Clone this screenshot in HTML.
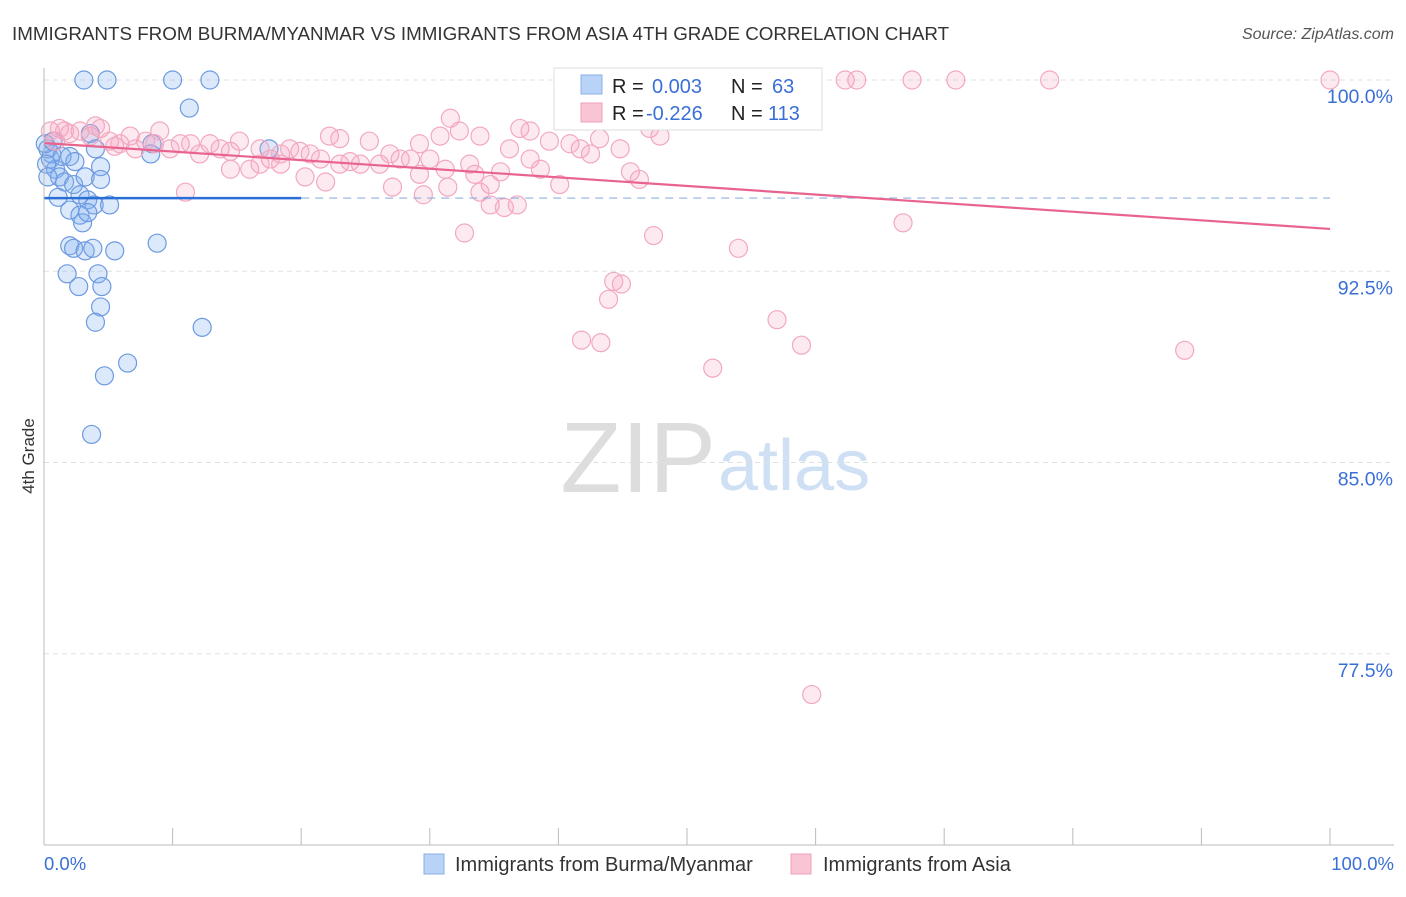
<!DOCTYPE html>
<html><head><meta charset="utf-8"><style>
body{margin:0;background:#fff;font-family:"Liberation Sans",sans-serif}
svg text{font-family:"Liberation Sans",sans-serif}
</style></head><body>
<svg id="c" width="1406" height="892" xmlns="http://www.w3.org/2000/svg">
<text x="12" y="40" font-size="18.8" fill="#333">IMMIGRANTS FROM BURMA/MYANMAR VS IMMIGRANTS FROM ASIA 4TH GRADE CORRELATION CHART</text>
<text x="1394" y="39" font-size="16" fill="#555" font-style="italic" text-anchor="end">Source: ZipAtlas.com</text>
<text x="716" y="492" font-size="100" fill="#ddd" text-anchor="end" font-family="Liberation Serif">ZIP</text>
<text x="718" y="490" font-size="72" fill="#cfe0f5">atlas</text>
<text x="34" y="456" font-size="17" fill="#333" text-anchor="middle" transform="rotate(-90 34 456)">4th Grade</text>
<g id="grid"></g><g id="ticks"></g><g id="pts"></g><g id="lines"></g>
<line x1="44" y1="68" x2="44" y2="845" stroke="#bbb"/>
<line x1="44" y1="845" x2="1394" y2="845" stroke="#bbb"/>
<text x="44" y="870" font-size="18.5" fill="#3a6fd6">0.0%</text>
<text x="1394" y="870" font-size="18.5" fill="#3a6fd6" text-anchor="end">100.0%</text>
<g>
<rect x="554" y="68" width="268" height="62" fill="#fff" stroke="#ddd"/>
<rect x="581" y="75" width="21" height="19" fill="#b8d3f5" stroke="#8ab0e8"/>
<rect x="581" y="103" width="21" height="19" fill="#f9c4d4" stroke="#efa0b8"/>
<text x="612" y="93" font-size="20" fill="#222">R = </text><text x="652" y="93" font-size="20" fill="#3a6fd6">0.003</text>
<text x="731" y="93" font-size="20" fill="#222">N = </text><text x="772" y="93" font-size="20" fill="#3a6fd6">63</text>
<text x="612" y="120" font-size="20" fill="#222">R = </text><text x="646" y="120" font-size="20" fill="#3a6fd6">-0.226</text>
<text x="731" y="120" font-size="20" fill="#222">N = </text><text x="768" y="120" font-size="20" fill="#3a6fd6">113</text>
</g>
<g>
<rect x="424" y="854" width="20" height="20" fill="#b8d3f5" stroke="#8ab0e8"/>
<text x="455" y="871" font-size="20" fill="#333">Immigrants from Burma/Myanmar</text>
<rect x="791" y="854" width="20" height="20" fill="#f9c4d4" stroke="#efa0b8"/>
<text x="823" y="871" font-size="20" fill="#333">Immigrants from Asia</text>
</g>
</svg>
<script>
const yTicks=[100,92.5,85,77.5];
const yTickLabels=["100.0%","92.5%","85.0%","77.5%"];
const xTicks=[0,10,20,30,40,50,60,70,80,90,100];
const blueX=[3.1,4.9,10.0,12.9,11.3,0.3,0.5,0.9,1.2,0.6,2.0,3.6,4.0,8.4,8.3,4.4,1.6,2.3,2.8,1.1,2.0,2.8,3.4,3.9,5.1,3.0,3.4,2.0,2.3,3.2,3.8,5.5,8.8,1.8,2.7,4.2,4.5,4.4,4.0,12.3,6.5,4.7,3.7,17.5,0.1,0.2,0.7,1.4,2.4,3.2,0.3,4.4];
const blueY=[100,100,100,100,98.9,97.3,96.9,96.5,96.2,97.1,97.0,97.9,97.3,97.5,97.1,96.6,96.0,95.9,95.5,95.4,94.9,94.7,95.3,95.1,95.1,94.4,94.8,93.5,93.4,93.3,93.4,93.3,93.6,92.4,91.9,92.4,91.9,91.1,90.5,90.3,88.9,88.4,86.1,97.3,97.5,96.7,97.6,97.0,96.8,96.2,96.2,96.1];
const pinkX=[0.5,1.2,2.0,2.8,3.6,4.4,5.1,5.9,6.7,7.1,7.9,8.6,9.0,9.8,10.6,11.4,12.1,12.9,13.7,14.5,15.2,16.0,16.8,17.6,18.4,19.1,19.9,20.7,21.5,22.2,23.0,23.8,24.6,25.3,26.1,26.9,27.7,28.5,29.2,30.0,30.8,31.6,32.3,33.1,33.9,34.7,35.5,36.2,37.0,37.8,38.6,39.3,40.1,40.9,41.7,42.5,43.2,44.8,45.6,46.3,47.9,47.1,53.0,53.3,62.3,63.2,67.5,70.9,78.2,100,11.0,21.9,20.3,27.1,29.5,31.4,33.9,34.7,35.8,36.8,32.7,47.4,54.0,66.8,44.3,44.9,43.9,41.8,43.3,57.0,58.9,52.0,88.7,59.7,5.5,4.0,1.6,0.9,14.5,23.0,29.2,18.4,16.8,31.2,33.5,37.8];
const pinkY=[98.0,98.1,97.9,98.0,97.8,98.1,97.6,97.5,97.8,97.3,97.6,97.5,98.0,97.3,97.5,97.5,97.1,97.5,97.3,97.2,97.6,96.5,97.3,96.9,97.1,97.3,97.2,97.1,96.9,97.8,97.7,96.8,96.7,97.6,96.7,97.1,96.9,96.9,97.5,96.9,97.8,98.5,98.0,96.7,97.8,95.9,96.4,97.3,98.1,98.0,96.5,97.6,95.9,97.5,97.3,97.1,97.7,97.3,96.4,96.1,97.8,98.1,100,99.9,100,100,100,100,100,100,95.6,96.0,96.2,95.8,95.5,95.8,95.6,95.1,95.0,95.1,94.0,93.9,93.4,94.4,92.1,92.0,91.4,89.8,89.7,90.6,89.6,88.7,89.4,75.9,97.4,98.2,98.0,97.6,96.5,96.7,96.3,96.7,96.7,96.5,96.3,96.9];
const blueTrend=[95.37,95.37];
const pinkTrend=[97.53,94.16];
const X=v=>44+v*12.86;
const Y=v=>80+(100-v)*25.5;
const NS="http://www.w3.org/2000/svg";
function mk(tag,attrs,parent){const e=document.createElementNS(NS,tag);for(const k in attrs)e.setAttribute(k,attrs[k]);document.getElementById(parent).appendChild(e);return e;}
yTicks.forEach((t,i)=>{
 const g=mk('line',{x1:44,x2:1394,y1:Y(t),y2:Y(t),stroke:'#e0e0e0','stroke-dasharray':'5,4'},'grid');
 
 
 const tx=mk('text',{x:1393,y:Y(t)+23,'font-size':19.5,fill:'#3a6fd6','text-anchor':'end'},'grid');
 tx.textContent=yTickLabels[i];
 
 
});
xTicks.forEach(t=>{
 const l=mk('line',{x1:X(t),x2:X(t),y1:828,y2:845,stroke:'#bbb'},'ticks');
 
 
});
blueX.forEach((v,i)=>{
 const c=mk('circle',{cx:X(v),cy:Y(blueY[i]),r:9,fill:'rgba(130,175,240,0.28)',stroke:'#6d9ae0','stroke-width':1.2},'pts');
 
 
});
pinkX.forEach((v,i)=>{
 const c=mk('circle',{cx:X(v),cy:Y(pinkY[i]),r:9,fill:'rgba(245,160,190,0.22)',stroke:'#f2a8be','stroke-width':1.2},'pts');
 
 
});
const b1=mk('line',{x1:X(0),y1:Y(blueTrend[0]),x2:X(20),y2:Y(blueTrend[0]+(blueTrend[1]-blueTrend[0])*0.2),stroke:'#2a6fd6','stroke-width':2.5},'lines');


const b2=mk('line',{x1:X(20),y1:Y(blueTrend[0]+(blueTrend[1]-blueTrend[0])*0.2),x2:X(100),y2:Y(blueTrend[1]),stroke:'#8fb0e0','stroke-width':1.2,'stroke-dasharray':'8,6'},'lines');


const p1=mk('line',{x1:X(0),y1:Y(pinkTrend[0]),x2:X(100),y2:Y(pinkTrend[1]),stroke:'#e8648e','stroke-width':2.2},'lines');


</script>
</body></html>
